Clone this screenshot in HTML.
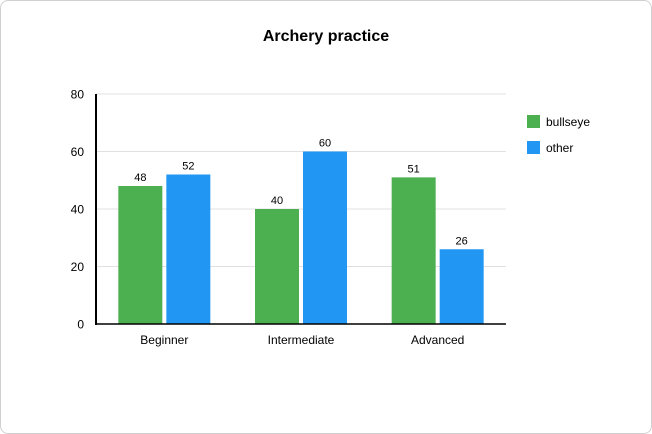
<!DOCTYPE html>
<html><head><meta charset="utf-8"><style>
body{margin:0;background:#fff;}
#card{position:absolute;left:0;top:0;width:650px;height:432px;border:1px solid #d0d0d0;border-radius:8px;background:#fff;}
text{font-family:"Liberation Sans",Arial,sans-serif;}
</style></head><body>
<div id="card">
<svg id="chart" width="652" height="434" style="position:absolute;left:-1px;top:-1px"></svg>
</div>
<script>
const categories=["Beginner","Intermediate","Advanced"];
const bullseye=[48,40,51];
const other=[52,60,26];
const yTicks=[0,20,40,60,80];
const seriesNames=["bullseye","other"];
const colors=["#4caf50","#2196f3"];
const NS="http://www.w3.org/2000/svg";
const svg=document.getElementById('chart');
const X0=96,X1=506,Y0=324,Y1=94,YMAX=80;
const y=v=>Y0-(v/YMAX)*(Y0-Y1);
const gw=(X1-X0)/categories.length;
function mk(t,a,p){const e=document.createElementNS(NS,t);for(const k in a)e.setAttribute(k,a[k]);(p||svg).appendChild(e);return e;}
let t=mk('text',{x:326,y:41,'text-anchor':'middle','font-size':16,'font-weight':'bold',fill:'#000'});t.textContent="Archery practice";


yTicks.forEach(v=>{
 if(v>0){const g=mk('line',{x1:X0,x2:X1,y1:y(v),y2:y(v),stroke:'#e0e0e0','stroke-width':1});
 
 }
 const l=mk('text',{x:84,y:y(v)+4.5,'text-anchor':'end','font-size':12,fill:'#000'});l.textContent=v;
 
 
});
const series=[bullseye,other];
const bw=44,gap=4;
categories.forEach((c,i)=>{
 const cx=X0+gw*(i+0.5);
 series.forEach((s,j)=>{
  const x=j===0?cx-gap/2-bw:cx+gap/2;
  const r=mk('rect',{x:x,y:y(s[i]),width:bw,height:Y0-y(s[i]),fill:colors[j]});
  
  
  const l=mk('text',{x:x+bw/2,y:y(s[i])-5,'text-anchor':'middle','font-size':11,fill:'#000'});l.textContent=s[i];
  
  
 });
 const l=mk('text',{x:cx,y:344,'text-anchor':'middle','font-size':12,fill:'#000'});l.textContent=c;
 
 
});
let ax=mk('line',{x1:X0,x2:X0,y1:Y1,y2:Y0+1,stroke:'#000','stroke-width':2});


let bx=mk('line',{x1:X0-1,x2:X1,y1:Y0,y2:Y0,stroke:'#000','stroke-width':1.5});


seriesNames.forEach((n,j)=>{
 const ly=115+j*26;
 const r=mk('rect',{x:527,y:ly,width:13,height:13,fill:colors[j]});
 
 
 const l=mk('text',{x:546,y:ly+11,'font-size':12,fill:'#000'});l.textContent=n;
 
 
});
</script>
</body></html>
